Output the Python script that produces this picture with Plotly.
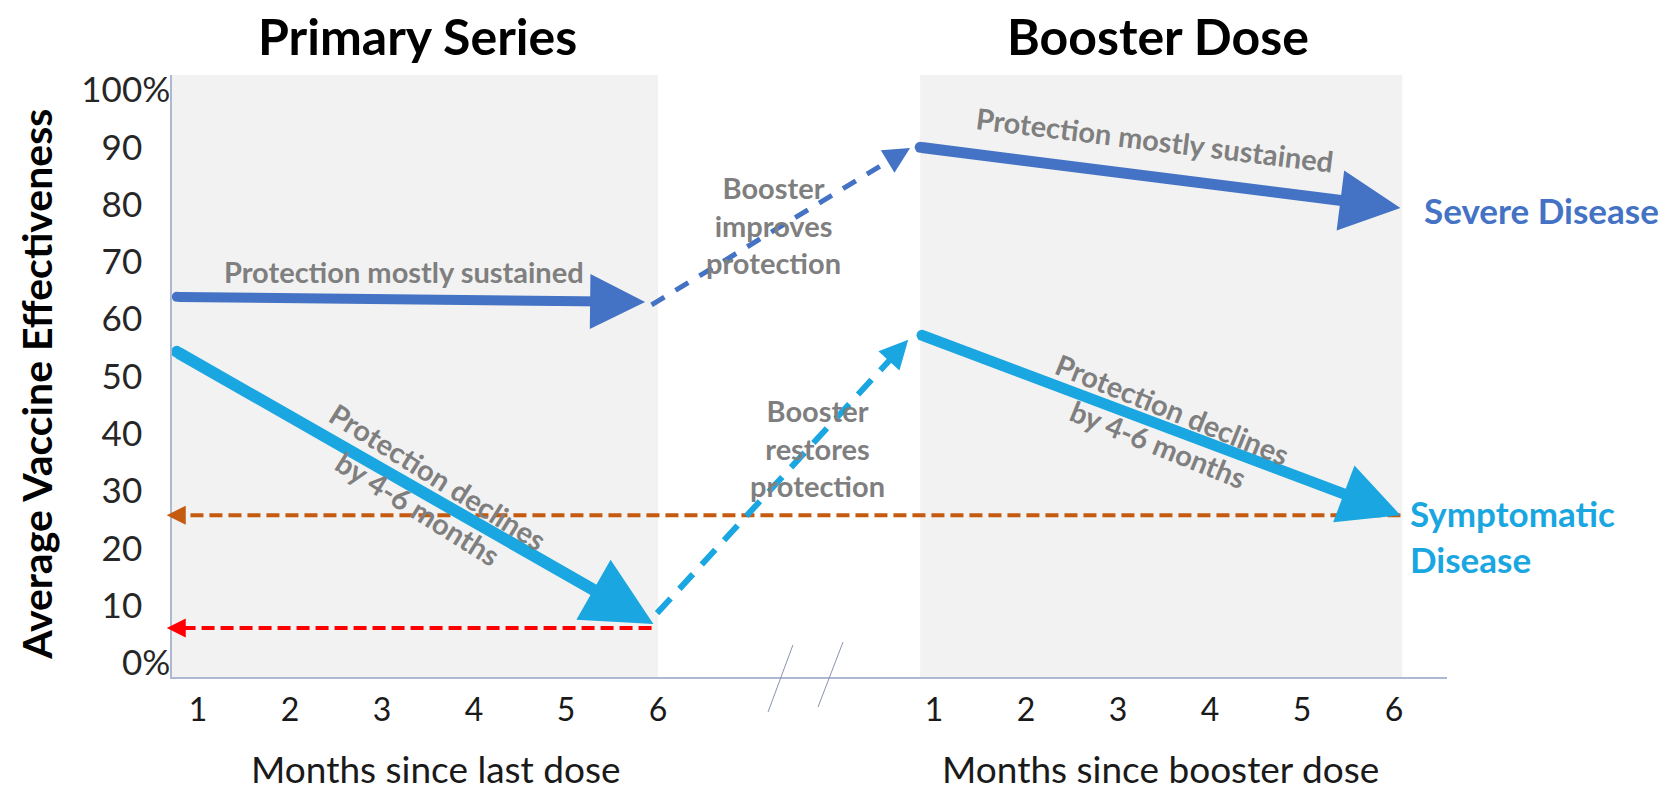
import plotly.graph_objects as go

# ---------------- data ----------------
months = [1, 2, 3, 4, 5, 6]                 # tick labels, both panels
booster_offset = 8                          # booster month k sits at k + 8 on the shared axis
y_ticks = [0, 10, 20, 30, 40, 50, 60, 70, 80, 90, 100]

# Severe disease (dark blue) – start / end of each arrow: axis position, % VE
severe_primary_x = [0.77, 5.86]
severe_primary_ve = [63.9, 63.0]
severe_jump_x = [5.93, 8.74]
severe_jump_ve = [62.5, 89.9]
severe_booster_x = [8.85, 14.07]
severe_booster_ve = [90.0, 79.4]

# Symptomatic disease (light blue)
sympt_primary_x = [0.77, 5.95]
sympt_primary_ve = [54.3, 6.8]
sympt_jump_x = [5.99, 8.72]
sympt_jump_ve = [8.7, 56.4]
sympt_booster_x = [8.87, 14.07]
sympt_booster_ve = [57.2, 25.8]

# Reference levels (dashed, arrow pointing to the y axis)
booster_low_x = [14.07, 0.66]
booster_low_ve = [25.8, 25.8]
primary_low_x = [5.93, 0.66]
primary_low_ve = [6.1, 6.1]

# ---------------- styling ----------------
DARK = "#4472C4"
LIGHT = "#1AA6E0"
ORANGE = "#C55A11"
RED = "#FF0000"
GRAY = "#7F7F7F"
AXIS = "#AEB8D2"
SHADE = "#F2F2F2"
FONT = "Lato"

XMIN, XMAX = 0.7174, 14.576
YMIN, YMAX = -2.443, 102.62

fig = go.Figure()

# shaded panels
fig.add_shape(type="rect", xref="x", yref="y", x0=XMIN, x1=6.0, y0=YMIN, y1=YMAX,
              fillcolor=SHADE, line_width=0, layer="below")
fig.add_shape(type="rect", xref="x", yref="y", x0=8.85, x1=14.09, y0=YMIN, y1=YMAX,
              fillcolor=SHADE, line_width=0, layer="below")


def shorten(xs, ys, frac):
    """end point moved back along the segment by frac of its length"""
    return [xs[0], xs[1] - (xs[1] - xs[0]) * frac], [ys[0], ys[1] - (ys[1] - ys[0]) * frac]


def dashed(xs, ys, color, width, dash, frac, size):
    sx, sy = shorten(xs, ys, frac)
    fig.add_trace(go.Scatter(x=sx, y=sy, mode="lines", showlegend=False, hoverinfo="skip",
                             line=dict(color=color, width=width, dash=dash)))
    tx, ty = shorten(xs, ys, frac * 1.5)
    fig.add_annotation(x=xs[1], y=ys[1], ax=tx[1], ay=ty[1], xref="x", yref="y",
                       axref="x", ayref="y", text="", showarrow=True, arrowhead=2,
                       arrowsize=size, arrowwidth=width, arrowcolor=color, standoff=0)


def solid(xs, ys, color, width, size):
    # rounded tail
    fig.add_trace(go.Scatter(x=[xs[0]], y=[ys[0]], mode="markers", showlegend=False,
                             hoverinfo="skip", cliponaxis=False,
                             marker=dict(color=color, size=width, line_width=0)))
    fig.add_annotation(x=xs[1], y=ys[1], ax=xs[0], ay=ys[0], xref="x", yref="y",
                       axref="x", ayref="y", text="", showarrow=True, arrowhead=2,
                       arrowsize=size, arrowwidth=width, arrowcolor=color, standoff=0)


# reference dashed lines
dashed(booster_low_x, booster_low_ve, ORANGE, 4, "13px,6px", 0.008, 0.95)
dashed(primary_low_x, primary_low_ve, RED, 4, "13px,6px", 0.02, 0.95)

# booster jumps (dashed)
dashed(severe_jump_x, severe_jump_ve, DARK, 5, "15px,13px", 0.05, 1.05)
dashed(sympt_jump_x, sympt_jump_ve, LIGHT, 6, "20px,13px", 0.045, 0.95)

# solid trend arrows
solid(severe_primary_x, severe_primary_ve, DARK, 10, 1.1)
solid(sympt_primary_x, sympt_primary_ve, LIGHT, 12, 1.15)
solid(severe_booster_x, severe_booster_ve, DARK, 11, 1.1)
solid(sympt_booster_x, sympt_booster_ve, LIGHT, 11, 1.1)

# ---------------- text ----------------
def note(x, y, text, angle=0, size=29, color=GRAY, xanchor="center", align="center"):
    fig.add_annotation(x=x, y=y, xref="x", yref="y", text=text, showarrow=False,
                       textangle=angle, xanchor=xanchor, yanchor="middle", align=align,
                       font=dict(family=FONT, size=size, color=color, weight="bold"))

note(3.24, 68.4, "Protection mostly sustained")
note(3.50, 29.8, "Protection declines<br>by 4-6 months", angle=32)
note(7.25, 76.4, "Booster<br>improves<br>protection")
note(7.73, 37.5, "Booster<br>restores<br>protection")
note(11.40, 91.4, "Protection mostly sustained", angle=7)
note(11.51, 41.2, "Protection declines<br>by 4-6 months", angle=22)
note(14.30, 79.1, "Severe Disease", size=35, color=DARK, xanchor="left", align="left")
note(14.15, 22.1, "Symptomatic<br>Disease", size=35, color=LIGHT, xanchor="left", align="left")

# panel titles
for xc, t in [(3.39, "Primary Series"), (11.43, "Booster Dose")]:
    fig.add_annotation(x=xc, y=1.0648, xref="x", yref="paper", text=t, showarrow=False,
                       xanchor="center", yanchor="middle",
                       font=dict(family=FONT, size=50, color="black", weight="bold"))

# x axis titles
for xc, t in [(3.59, "Months since last dose"), (11.46, "Months since booster dose")]:
    fig.add_annotation(x=xc, y=-0.1528, xref="x", yref="paper", text=t, showarrow=False,
                       xanchor="center", yanchor="middle",
                       font=dict(family=FONT, size=37, color="#1a1a1a"))

# y axis title
fig.add_annotation(x=-0.1059, y=0.487, xref="paper", yref="paper",
                   text="Average Vaccine Effectiveness", showarrow=False, textangle=-90,
                   xanchor="center", yanchor="middle",
                   font=dict(family=FONT, size=41, color="black", weight="bold"))

# axis break marks
for x0, x1, y0, y1 in [(0.4675, 0.487, -0.0581, 0.0532), (0.5067, 0.5263, -0.0498, 0.0581)]:
    fig.add_shape(type="line", xref="paper", yref="paper", x0=x0, x1=x1, y0=y0, y1=y1,
                  line=dict(color="#8A94B0", width=1))

# ---------------- axes ----------------
hidden = "<span style='color:rgba(0,0,0,0)'>%</span>"
y_ticktext = [f"{v}%" if v in (0, 100) else f"{v}{hidden}" for v in y_ticks]
x_tickvals = months + [m + booster_offset for m in months]
x_ticktext = [str(m) for m in months] * 2

fig.update_xaxes(range=[XMIN, XMAX], tickvals=x_tickvals, ticktext=x_ticktext,
                 showgrid=False, zeroline=False, showline=True, linecolor=AXIS, linewidth=2,
                 ticks="", tickfont=dict(family=FONT, size=32, color="#1a1a1a"),
                 ticklabelstandoff=4)
fig.update_yaxes(range=[YMIN, YMAX], tickvals=y_ticks, ticktext=y_ticktext,
                 showgrid=False, zeroline=False, showline=True, linecolor=AXIS, linewidth=1.5,
                 ticks="", tickfont=dict(family=FONT, size=35, color="#262626"),
                 ticklabelstandoff=-7)

fig.update_layout(width=1674, height=793, autosize=False,
                  margin=dict(l=172, r=227, t=75, b=116),
                  paper_bgcolor="white", plot_bgcolor="white",
                  showlegend=False, hovermode=False)

fig.write_html("out.html")
